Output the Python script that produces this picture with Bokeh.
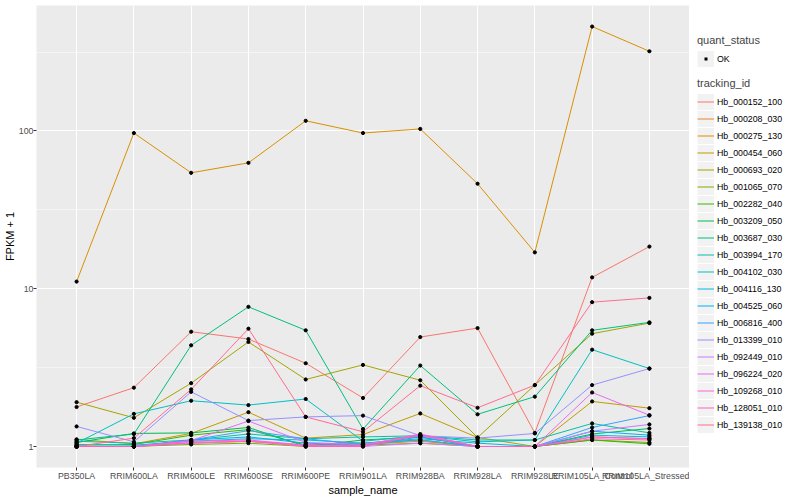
from bokeh.plotting import figure
from bokeh.layouts import row
from bokeh.models import (FactorRange, Range1d, FixedTicker, BasicTickFormatter,
                          Legend, LegendItem, ColumnDataSource)
from bokeh.embed import file_html
from bokeh.resources import INLINE

samples = ["PB350LA", "RRIM600LA", "RRIM600LE", "RRIM600SE", "RRIM600PE",
           "RRIM901LA", "RRIM928BA", "RRIM928LA", "RRIM928LE",
           "RRIM105LA_Control", "RRIM105LA_Stressed"]

tracking_ids = ["Hb_000152_100", "Hb_000208_030", "Hb_000275_130", "Hb_000454_060",
                "Hb_000693_020", "Hb_001065_070", "Hb_002282_040", "Hb_003209_050",
                "Hb_003687_030", "Hb_003994_170", "Hb_004102_030", "Hb_004116_130",
                "Hb_004525_060", "Hb_006816_400", "Hb_013399_010", "Hb_092449_010",
                "Hb_096224_020", "Hb_109268_010", "Hb_128051_010", "Hb_139138_010"]

# FPKM + 1 per sample
hb_000152_100 = [1.78, 2.36, 5.34, 4.80, 3.37, 2.03, 4.94, 5.63, 1.22, 11.8, 18.5]
hb_000208_030 = [1.00, 1.00, 1.05, 1.08, 1.02, 1.03, 1.08, 1.00, 1.00, 1.15, 1.12]
hb_000275_130 = [11.1, 97.0, 54.3, 62.8, 116.0, 97.0, 103.0, 46.3, 17.0, 459.0, 320.0]
hb_000454_060 = [1.11, 1.04, 1.21, 1.65, 1.13, 1.19, 1.62, 1.14, 1.00, 1.93, 1.75]
hb_000693_020 = [1.91, 1.52, 2.52, 4.60, 2.66, 3.29, 2.63, 1.14, 2.45, 5.19, 6.06]
hb_001065_070 = [1.00, 1.00, 1.03, 1.05, 1.00, 1.02, 1.05, 1.00, 1.00, 1.10, 1.06]
hb_002282_040 = [1.02, 1.03, 1.18, 1.28, 1.02, 1.05, 1.10, 1.00, 1.00, 1.10, 1.04]
hb_003209_050 = [1.06, 1.21, 1.22, 1.32, 1.00, 1.10, 1.15, 1.00, 1.00, 1.20, 1.30]
hb_003687_030 = [1.10, 1.20, 4.38, 7.68, 5.45, 1.29, 3.26, 1.60, 2.07, 5.45, 6.12]
hb_003994_170 = [1.08, 1.05, 1.10, 1.20, 1.12, 1.15, 1.17, 1.10, 1.10, 1.40, 1.22]
hb_004102_030 = [1.05, 1.61, 1.95, 1.83, 2.00, 1.08, 1.17, 1.07, 1.10, 4.11, 3.12]
hb_004116_130 = [1.03, 1.02, 1.08, 1.12, 1.10, 1.05, 1.12, 1.05, 1.00, 1.18, 1.15]
hb_004525_060 = [1.00, 1.00, 1.10, 1.15, 1.05, 1.02, 1.15, 1.00, 1.00, 1.25, 1.18]
hb_006816_400 = [1.00, 1.00, 1.10, 1.26, 1.12, 1.03, 1.10, 1.00, 1.00, 1.32, 1.57]
hb_013399_010 = [1.34, 1.07, 2.22, 1.46, 1.54, 1.57, 1.17, 1.13, 1.21, 2.45, 3.12]
hb_092449_010 = [1.00, 1.00, 1.05, 1.08, 1.02, 1.00, 1.05, 1.00, 1.00, 1.25, 1.38]
hb_096224_020 = [1.00, 1.00, 1.09, 1.45, 1.06, 1.03, 1.17, 1.00, 1.00, 2.20, 1.58]
hb_109268_010 = [1.00, 1.00, 1.08, 1.10, 1.02, 1.02, 1.20, 1.00, 1.00, 1.15, 1.12]
hb_128051_010 = [1.00, 1.00, 1.06, 1.08, 1.00, 1.00, 1.18, 1.00, 1.00, 1.12, 1.10]
hb_139138_010 = [1.00, 1.13, 2.30, 5.58, 1.54, 1.24, 2.43, 1.76, 2.45, 8.22, 8.75]

series = [hb_000152_100, hb_000208_030, hb_000275_130, hb_000454_060, hb_000693_020,
          hb_001065_070, hb_002282_040, hb_003209_050, hb_003687_030, hb_003994_170,
          hb_004102_030, hb_004116_130, hb_004525_060, hb_006816_400, hb_013399_010,
          hb_092449_010, hb_096224_020, hb_109268_010, hb_128051_010, hb_139138_010]

palette = ["#F8766D", "#EA8331", "#D89000", "#C09B00", "#A3A500", "#7CAE00", "#39B600",
           "#00BB4E", "#00BF7D", "#00C1A3", "#00BFC4", "#00BAE0", "#00B0F6", "#35A2FF",
           "#9590FF", "#C77CFF", "#E76BF3", "#FA62DB", "#FF62BC", "#FF6C91"]

FONT = "Liberation Sans"
H = 498

p = figure(width=689, height=H,
           x_range=FactorRange(*samples, range_padding=0.2, range_padding_units="absolute"),
           y_range=Range1d(10 ** -0.1331, 10 ** 2.7952), y_axis_type="log",
           output_backend="svg", toolbar_location=None,
           min_border_left=0, min_border_right=0, min_border_top=5, min_border_bottom=0)

p.background_fill_color = "#EBEBEB"
p.border_fill_color = "white"
p.outline_line_color = None

p.yaxis.ticker = FixedTicker(ticks=[1, 10, 100],
                             minor_ticks=[10 ** -0.5, 10 ** 0.5, 10 ** 1.5, 10 ** 2.5])
p.yaxis.formatter = BasicTickFormatter()
for ax in (p.xaxis[0], p.yaxis[0]):
    ax.axis_line_color = None
    ax.major_tick_line_color = "#333333"
    ax.major_tick_out = 3
    ax.major_tick_in = 0
    ax.minor_tick_out = 0
    ax.minor_tick_in = 0
    ax.major_label_text_font = FONT
    ax.major_label_text_font_size = "8.8px"
    ax.major_label_text_color = "#4D4D4D"
    ax.major_label_standoff = 0
    ax.axis_label_text_font = FONT
    ax.axis_label_text_font_size = "11px"
    ax.axis_label_text_font_style = "normal"
    ax.axis_label_text_color = "black"
    ax.axis_label_standoff = 0
p.xaxis.axis_label = "sample_name"
p.yaxis.axis_label = "FPKM + 1"

p.xgrid.grid_line_color = "white"
p.xgrid.grid_line_width = 1.07
p.ygrid.grid_line_color = "white"
p.ygrid.grid_line_width = 1.07
p.ygrid.minor_grid_line_color = "white"
p.ygrid.minor_grid_line_width = 0.53

for vals, col in zip(series, palette):
    p.line(x=samples, y=vals, line_color=col, line_width=1)

all_x = [s for vals in series for s in samples]
all_y = [v for vals in series for v in vals]
p.scatter(x=all_x, y=all_y, size=3.2, color="black", marker="circle")

# ---- legend panel ----
lg = figure(width=109, height=H, x_range=Range1d(0, 1), y_range=Range1d(0, 1),
            output_backend="svg", toolbar_location=None,
            x_axis_location=None, y_axis_location=None,
            min_border_left=0, min_border_right=0, min_border_top=0, min_border_bottom=0)
lg.outline_line_color = None
lg.xgrid.visible = False
lg.ygrid.visible = False
lg.background_fill_color = "white"


def offscreen_line(**kw):
    # points outside the visible range: only the legend key is drawn
    return lg.line(x="x", y="y", source=ColumnDataSource(dict(x=[5, 6], y=[5, 6])), **kw)


bg = offscreen_line(line_width=16, line_color="#F2F2F2")
dot = offscreen_line(line_width=3, line_color="black", line_dash="0 7 3 7")
key_lines = [offscreen_line(line_width=1, line_color=c) for c in palette]

common = dict(padding=0, margin=0, spacing=0, glyph_width=17, glyph_height=17,
              label_height=17, label_standoff=3,
              label_text_font=FONT, label_text_font_size="8.8px", label_text_color="black",
              title_text_font=FONT, title_text_font_size="11px", title_text_font_style="normal",
              title_standoff=4, background_fill_alpha=0, border_line_alpha=0)

leg_q = Legend(items=[LegendItem(label="OK", renderers=[bg, dot])],
               title="quant_status", location=(8, 400), **common)
leg_t = Legend(items=[LegendItem(label=tid, renderers=[bg, r])
                      for tid, r in zip(tracking_ids, key_lines)],
               title="tracking_id", location=(8, 34), **common)
lg.add_layout(leg_q)
lg.add_layout(leg_t)

layout = row(p, lg, spacing=0)
open("out.html", "w").write(file_html(layout, INLINE))
